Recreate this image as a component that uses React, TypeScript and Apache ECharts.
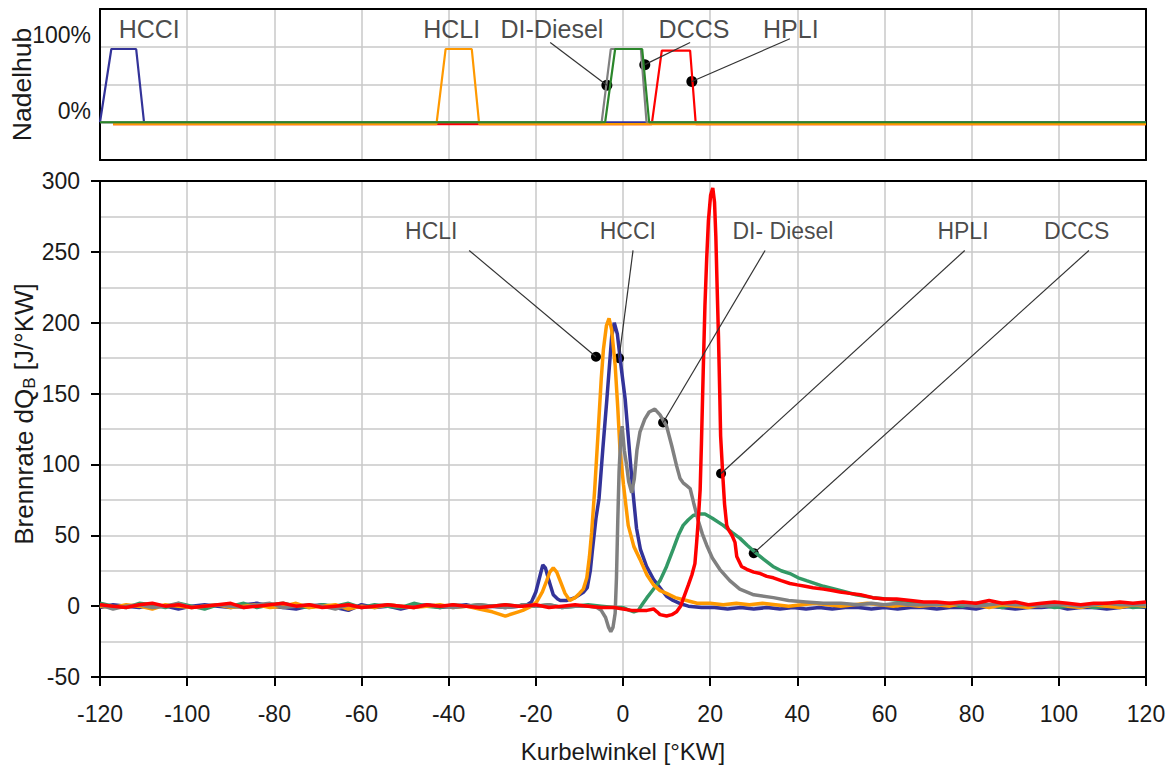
import React, { useEffect, useRef } from "react";
import * as echarts from "echarts";

// ---------- data ----------
const BASE_ANGLES = [-120, -117, -114, -111, -108, -105, -102, -99, -96, -93, -90, -87, -84, -81, -78, -75, -72, -69, -66, -63, -60, -57, -54, -51, -48, -45, -42, -39, -36, -33, -30, -27, -24];
const TAIL_ANGLES = [72, 75, 78, 81, 84, 87, 90, 93, 96, 99, 102, 105, 108, 111, 114, 117, 120];

const HCCI_BASE = [-1, 1, 0, -1, 1, 0, -2, 0, 1, 0, -1, 1, 2, 0, -1, -2, 0, 1, -1, -3, 1, -1, 0, -2, 0, 1, -1, 0, 1, -1, 0, -1, 0];
const HCLI_BASE = [0, -1, 1, 0, -2, 1, 0, -1, 0, 1, -1, 0, 1, -1, 0, 2, -1, 0, 1, -2, 0, -1, 1, 0, -1, 0, 1, -1, 0, -2, -4, -7, -4];
const DI_BASE = [1, -2, 0, 1, -1, 0, 2, -1, 0, 1, 0, -1, 1, 2, -1, 0, 1, 0, -2, 1, -1, 0, 1, 0, -1, 1, 0, -1, 0, 1, 0, -1, 0];
const DCCS_BASE = [2, 0, -1, 2, 1, -1, 2, 0, -2, 1, 0, 2, -1, 1, 2, 0, -1, 1, 0, 2, -1, 1, 0, -1, 2, 0, -1, 1, 0, 1, 0, 1, 0];
const HPLI_BASE = [1, 0, -1, 1, 2, 0, 1, -1, 0, 1, 2, -1, 0, 1, 2, 0, 1, -1, 0, 1, -1, 0, 1, 0, -1, 1, 0, 1, 0, -1, 0, 1, 0];

const HCCI_TAIL = [-2, -1, -1, -2, 0, -1, -2, -1, -1, 0, -2, -1, -1, -2, -1, 0, -1];
const HCLI_TAIL = [1, 0, 2, 1, -1, 1, 0, -1, 1, 2, 0, -1, 1, 0, -1, 1, 0];
const DI_TAIL = [1, 2, 1, 0, 1, 2, 1, 1, 0, 1, 1, 0, 1, 2, 1, 1, 1];
const DCCS_TAIL = [2, 1, 0, 2, 1, -1, 2, 0, 1, -1, 0, 1, -1, 0, 1, -1, 0];
const HPLI_TAIL = [3, 2, 3, 2, 4, 2, 3, 1, 2, 3, 2, 1, 2, 2, 3, 2, 3];

const HCCI_MID = [[-22, 1], [-21, 3], [-20, 10], [-19, 22], [-18.4, 29], [-17.8, 27], [-17, 18], [-16, 8], [-15, 5], [-14.4, 4], [-13, 4], [-12, 5], [-11, 6], [-10, 8], [-9, 10], [-8.2, 13], [-7.5, 25], [-7, 40], [-6.2, 62], [-5.5, 76], [-4.6, 112], [-3.7, 146], [-2.6, 190], [-2.0, 200], [-1.3, 192], [-0.4, 168], [0.5, 146], [1.2, 120], [1.8, 98], [2.3, 80], [3.1, 55], [4.0, 40], [5.4, 28], [7, 19], [8.5, 13], [10, 7], [11.5, 4], [13, 2], [15, 0], [18, -1], [21, -1], [24, -2], [27, -1], [30, -2], [33, -1], [36, -2], [39, -1], [42, -2], [45, -1], [48, -2], [51, -1], [54, -1], [57, -2], [60, -1], [63, -2], [66, -1], [69, -1]];
const HCLI_MID = [[-23, -3], [-21, 0], [-19.8, 3], [-18.5, 10], [-17.5, 18], [-16.8, 24], [-16, 27], [-15.2, 24], [-14.3, 17], [-13.3, 9], [-12.2, 4], [-11, 6], [-10, 9], [-9.1, 12], [-8.3, 20], [-7.7, 35], [-7.2, 52], [-6.5, 82], [-5.7, 123], [-5, 160], [-4.5, 181], [-3.8, 198], [-3.2, 203], [-2.6, 195], [-1.8, 170], [-1.2, 140], [-0.7, 111], [0.1, 86], [1.2, 57], [2.5, 42], [3.9, 33], [5.5, 22], [7, 15], [8.5, 11], [10, 9], [12, 6], [14.6, 4], [17, 2], [20, 2], [23, 1], [26, 2], [29, 1], [32, 2], [35, 1], [38, 0], [41, 1], [44, 2], [47, 1], [50, 0], [53, 1], [56, 2], [59, 1], [62, 0], [65, 1], [68, 0]];
const DI_MID = [[-23, 1], [-20, 0], [-17, 1], [-14, -1], [-11, 0], [-8, 0], [-6, -1], [-5, -3], [-4, -8], [-3.3, -15], [-2.8, -18], [-2.3, -15], [-1.8, -5], [-1.5, 20], [-1.2, 60], [-0.9, 95], [-0.5, 120], [-0.2, 127], [0.3, 110], [0.8, 100], [1.3, 88], [2.0, 80], [2.6, 90], [3.2, 110], [3.9, 123], [5, 132], [6, 137], [7.3, 139], [8.5, 135], [10, 127], [11.2, 113], [12.3, 99], [13.1, 90], [13.8, 87], [14.6, 85], [15.4, 83], [16.2, 73], [17.2, 61], [18.2, 51], [19.2, 43], [20.5, 34], [22.2, 26], [24.5, 18], [26.8, 12], [30, 8], [34.5, 6], [38, 4], [42, 3], [46, 2], [50, 2], [54, 1], [57, 2], [60, 1], [63, 2], [66, 1], [69, 1]];
const DCCS_MID = [[-23, 1], [-20, 0], [-17, 1], [-14, -1], [-11, 0], [-8, 1], [-5, 0], [-2, -1], [0, -1], [1.5, -3], [2.5, -4], [3.5, -3], [4.6, 2], [5.5, 6], [6.5, 10], [7.5, 14], [8.5, 18], [10, 28], [11.5, 40], [12.7, 50], [13.8, 57], [15, 61], [16.1, 64], [17.5, 65], [18.8, 65], [20.5, 62], [23, 57], [25, 52], [26.8, 48], [28.5, 43], [30.3, 38], [32.3, 33], [34.4, 28], [36.3, 25], [38.3, 23], [40.2, 20], [42.1, 18], [46, 14], [49.8, 11], [53.5, 8], [57.3, 6], [60.5, 5], [63.5, 4], [67, 3], [70, 2]];
const HPLI_MID = [[-23, 0], [-20, 1], [-17, -1], [-14, 0], [-11, 1], [-8, 0], [-5, -1], [-2, -1], [0, -2], [2, -3], [4, -3], [5.5, -3], [7, -2], [7.8, -4], [8.5, -6], [10, -7], [11.2, -6], [12.3, -4], [13.2, 0], [13.8, 5], [15, 15], [15.8, 22], [16.5, 30], [16.9, 45], [17.3, 62], [17.7, 82], [18, 115], [18.4, 165], [18.8, 212], [19.2, 245], [19.6, 272], [20.1, 290], [20.6, 295], [21, 285], [21.3, 261], [21.6, 225], [21.9, 191], [22.2, 150], [22.4, 120], [22.9, 92], [23.3, 72], [23.8, 57], [24.2, 54], [25, 50], [25.7, 45], [26.1, 35], [27.2, 28], [28.4, 26], [30, 24], [31.5, 23], [33, 21], [34.5, 20], [36.3, 18], [38.3, 16], [40, 15], [41.8, 14], [43.6, 13], [46, 12], [48, 11], [49.8, 10], [52, 9], [54.5, 8], [57.3, 6], [60, 5], [62.8, 5], [66, 4], [69, 3]];

// Needle lift (Nadelhub, %)
const LIFT_HCCI = [[-120, 0], [-117.4, 97], [-111.7, 97], [-109.9, 0], [120, 0]];
const LIFT_HCLI = [[-117, -2.5], [-42.8, -2.5], [-40.7, 97], [-34.7, 97], [-33, -2.5], [120, -2.5]];
const LIFT_DI = [[-120, 0], [-4.9, 0], [-2.8, 97], [4.1, 97], [5.4, 0], [42.9, 0]];
const LIFT_DCCS = [[-120, 0], [-4.1, 0], [-1.8, 97], [4.4, 97], [6, 0], [120, 0]];
const LIFT_HPLI = [[-117, -2.5], [6.6, -2.5], [8.9, 95], [15.4, 95], [16.7, -2.5], [120, -2.5]];

// Annotations: label position, leader start, dot (data coordinates)
const MAIN_LABELS = [
  { name: "HCLI", at: [-44.0, 264.6], from: [-35.3, 251], dot: [-6.2, 176] },
  { name: "HCCI", at: [1.1, 264.6], from: [2.3, 251], dot: [-0.9, 175] },
  { name: "DI- Diesel", at: [36.7, 264.6], from: [32.6, 251], dot: [9.2, 129.6] },
  { name: "HPLI", at: [78.0, 264.6], from: [78.4, 251], dot: [22.5, 93.6] },
  { name: "DCCS", at: [104.1, 264.6], from: [106.9, 251], dot: [30.0, 37.4] },
];
const TOP_LABELS = [
  { name: "HCCI", at: [-108.7, 123.7] },
  { name: "HCLI", at: [-39.3, 123.7] },
  { name: "DI-Diesel", at: [-16.3, 123.7], from: [-16.7, 105.7], dot: [-3.7, 49] },
  { name: "DCCS", at: [16.3, 123.7], from: [15.4, 105.7], dot: [5.0, 76.3] },
  { name: "HPLI", at: [38.5, 123.7], from: [38.3, 110.5], dot: [15.8, 54] },
];

const COLORS = {
  HCCI: "#333399",
  HCLI: "#ff9900",
  DI: "#808080",
  DCCS: "#339966",
  DCCS_TOP: "#2a862a",
  HPLI: "#ff0000",
};

const FONT = "'Liberation Sans', Arial, sans-serif";
const TEXT = "#1a1a1a";
const GRIDLINE = "#c8c8c8";

function build(base: number[], mid: number[][], tail: number[]) {
  return [
    ...BASE_ANGLES.map((a, i) => [a, base[i]]),
    ...mid,
    ...TAIL_ANGLES.map((a, i) => [a, tail[i]]),
  ];
}

export default function App() {
  const ref = useRef<HTMLDivElement>(null);
  useEffect(() => {
    if (!ref.current) return;
    const chart = echarts.init(ref.current, undefined, { renderer: "svg" });

    const mainLine = (name: string, color: string, data: number[][]) => ({
      name, type: "line", xAxisIndex: 1, yAxisIndex: 1, data, color,
      symbol: "none", showSymbol: false, silent: true,
      lineStyle: { color, width: 3.5 },
    });
    const topLine = (name: string, color: string, data: number[][]) => ({
      name, type: "line", xAxisIndex: 0, yAxisIndex: 0, data, color,
      symbol: "none", showSymbol: false, silent: true,
      lineStyle: { color, width: 2.2 },
    });

    const leaders: any[] = [];
    MAIN_LABELS.forEach((l) => {
      leaders.push({
        type: "line", xAxisIndex: 1, yAxisIndex: 1, data: [l.from, l.dot],
        symbol: "none", silent: true, lineStyle: { color: "#333", width: 1.2 },
      });
    });
    TOP_LABELS.filter((l: any) => l.dot).forEach((l: any) => {
      leaders.push({
        type: "line", xAxisIndex: 0, yAxisIndex: 0, data: [l.from, l.dot],
        symbol: "none", silent: true, lineStyle: { color: "#333", width: 1.2 },
      });
    });

    const frameAxisX = (gridIndex: number) => ({
      gridIndex, type: "value", position: "top", min: -120, max: 120, interval: 20,
      axisLabel: { show: false }, axisTick: { show: false }, splitLine: { show: false },
      axisLine: { show: true, onZero: false, lineStyle: { color: "#000", width: 2 } },
    });
    const frameAxisY = (gridIndex: number, min: number, max: number) => ({
      gridIndex, type: "value", position: "right", min, max, interval: 50,
      axisLabel: { show: false }, axisTick: { show: false }, splitLine: { show: false },
      axisLine: { show: true, onZero: false, lineStyle: { color: "#000", width: 2 } },
    });

    const option: any = {
      animation: false,
      backgroundColor: "#fff",
      textStyle: { fontFamily: FONT },
      grid: [
        { left: 100, right: 27, top: 9, height: 151, outerBoundsMode: "none", containLabel: false },
        { left: 100, right: 27, top: 181, height: 496, outerBoundsMode: "none", containLabel: false },
      ],
      xAxis: [
        {
          gridIndex: 0, type: "value", min: -120, max: 120, interval: 20,
          axisLabel: { show: false }, axisTick: { show: false },
          axisLine: { show: true, onZero: false, lineStyle: { color: "#000", width: 2 } },
          splitLine: { show: true, lineStyle: { color: GRIDLINE, width: 1.5 } },
        },
        {
          gridIndex: 1, type: "value", min: -120, max: 120, interval: 20,
          axisLabel: { fontSize: 23, color: TEXT, margin: 25, fontFamily: FONT },
          axisTick: { show: true, length: 9, lineStyle: { color: "#000", width: 2 } },
          axisLine: { show: true, onZero: false, lineStyle: { color: "#000", width: 2 } },
          splitLine: { show: true, lineStyle: { color: GRIDLINE, width: 1.5 } },
          name: "Kurbelwinkel [°KW]", nameLocation: "middle", nameGap: 62, nameMoveOverlap: false,
          nameTextStyle: { fontSize: 24, color: TEXT, fontFamily: FONT },
        },
        frameAxisX(0),
        frameAxisX(1),
      ],
      yAxis: [
        {
          gridIndex: 0, type: "value", min: -50, max: 150, interval: 50,
          axisLabel: {
            fontSize: 23, color: TEXT, margin: 9, verticalAlign: "bottom", fontFamily: FONT,
            formatter: (v: number) => (v === 100 ? "100%" : v === 0 ? "0%" : ""),
          },
          axisTick: { show: false },
          axisLine: { show: true, onZero: false, lineStyle: { color: "#000", width: 2 } },
          splitLine: { show: true, lineStyle: { color: GRIDLINE, width: 1.5 } },
          name: "Nadelhub", nameLocation: "middle", nameGap: 65, nameRotate: 90, nameMoveOverlap: false,
          nameTextStyle: { fontSize: 26.5, color: TEXT, fontFamily: FONT },
        },
        {
          gridIndex: 1, type: "value", min: -50, max: 300, interval: 50,
          axisLabel: { fontSize: 23, color: TEXT, margin: 20, fontFamily: FONT },
          axisTick: { show: true, length: 9, lineStyle: { color: "#000", width: 2 } },
          axisLine: { show: true, onZero: false, lineStyle: { color: "#000", width: 2 } },
          splitLine: { show: true, lineStyle: { color: GRIDLINE, width: 1.5 } },
          minorTick: { show: false, splitNumber: 2 },
          minorSplitLine: { show: true, lineStyle: { color: GRIDLINE, width: 1.5 } },
          name: "{a|Brennrate dQ}{b|B}{a| [J/°KW]}",
          nameLocation: "middle", nameGap: 62, nameRotate: 90, nameMoveOverlap: false,
          nameTextStyle: {
            fontFamily: FONT, color: TEXT, padding: [0, 0, 0, 30],
            rich: {
              a: { fontSize: 26, color: TEXT, fontFamily: FONT },
              b: { fontSize: 17, color: TEXT, fontFamily: FONT, padding: [12, 0, 0, 0] },
            },
          },
        },
        frameAxisY(0, -50, 150),
        frameAxisY(1, -50, 300),
      ],
      series: [
        topLine("HCCI", COLORS.HCCI, LIFT_HCCI),
        topLine("HPLI", COLORS.HPLI, LIFT_HPLI),
        topLine("HCLI", COLORS.HCLI, LIFT_HCLI),
        topLine("DI-Diesel", COLORS.DI, LIFT_DI),
        topLine("DCCS", COLORS.DCCS_TOP, LIFT_DCCS),

        mainLine("HCCI", COLORS.HCCI, build(HCCI_BASE, HCCI_MID, HCCI_TAIL)),
        mainLine("DCCS", COLORS.DCCS, build(DCCS_BASE, DCCS_MID, DCCS_TAIL)),
        mainLine("HCLI", COLORS.HCLI, build(HCLI_BASE, HCLI_MID, HCLI_TAIL)),
        mainLine("DI-Diesel", COLORS.DI, build(DI_BASE, DI_MID, DI_TAIL)),
        mainLine("HPLI", COLORS.HPLI, build(HPLI_BASE, HPLI_MID, HPLI_TAIL)),

        ...leaders,
        {
          type: "scatter", xAxisIndex: 1, yAxisIndex: 1, silent: true,
          data: MAIN_LABELS.map((l) => l.dot), symbolSize: 10,
          itemStyle: { color: "#000", opacity: 1 },
        },
        {
          type: "scatter", xAxisIndex: 0, yAxisIndex: 0, silent: true,
          data: TOP_LABELS.filter((l: any) => l.dot).map((l: any) => l.dot), symbolSize: 11,
          itemStyle: { color: "#000", opacity: 1 },
        },
        {
          type: "scatter", xAxisIndex: 1, yAxisIndex: 1, silent: true,
          data: MAIN_LABELS.map((l) => ({ value: l.at, name: l.name })), symbolSize: 1,
          itemStyle: { color: "transparent" },
          label: { show: true, position: "inside", formatter: "{b}", fontSize: 23, color: TEXT, fontFamily: FONT },
        },
        {
          type: "scatter", xAxisIndex: 0, yAxisIndex: 0, silent: true,
          data: TOP_LABELS.map((l) => ({ value: l.at, name: l.name })), symbolSize: 1,
          itemStyle: { color: "transparent" },
          label: { show: true, position: "inside", formatter: "{b}", fontSize: 25, color: TEXT, fontFamily: FONT },
        },
      ],
    };
    chart.setOption(option);
    return () => chart.dispose();
  }, []);
  return (
    <div
      ref={ref}
      style={{ position: "fixed", left: 0, top: 0, width: 1173, height: 767, background: "#fff" }}
    />
  );
}
